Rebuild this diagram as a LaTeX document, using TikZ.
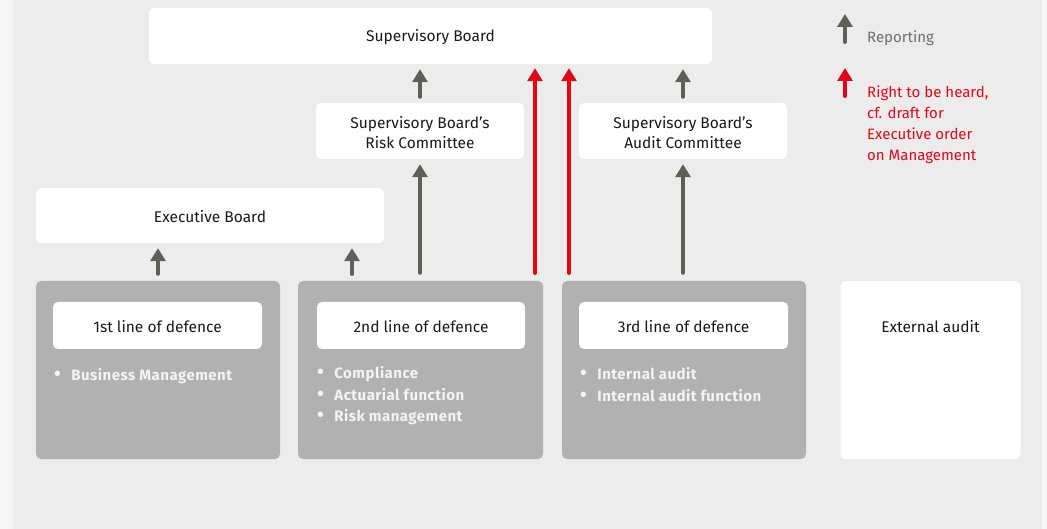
\documentclass[tikz,border=0pt]{standalone}
\usepackage{fontspec}
\setmainfont{Fira Sans}
\usetikzlibrary{arrows.meta}
\definecolor{bgc}{HTML}{ECECEC}
\definecolor{edgec}{HTML}{F6F6F6}
\definecolor{boxg}{HTML}{B1B1B1}
\definecolor{arrg}{HTML}{5E5F57}
\definecolor{arrr}{HTML}{E30613}
\definecolor{txtg}{HTML}{6E6E6E}
\definecolor{bullc}{HTML}{F4F4F4}
\tikzset{
  wbox/.style={fill=white, rounded corners=5pt, inner sep=0pt},
  wtext/.style={inner sep=0pt, align=center, yshift=-1.5pt, text=black!90,
    font=\fontsize{15.5}{20}\selectfont},
  gbox/.style={fill=boxg, rounded corners=5pt, inner sep=0pt},
  rep/.style={draw=arrg, line width=4pt, line cap=round,
    -{Triangle[width=15pt,length=13pt]}},
  rth/.style={draw=arrr, line width=4pt, line cap=round,
    -{Triangle[width=15pt,length=13pt]}},
  blist/.style={anchor=north west, inner sep=0pt, align=left, text=bullc,
    font=\fontsize{15}{21.5}\selectfont\bfseries\addfontfeatures{LetterSpace=3.2}},
  legtext/.style={anchor=west, inner sep=0pt, align=left,
    font=\fontsize{15}{21}\selectfont}
}
\newcommand{\bul}{\scalebox{1.3}{\textbullet}\hspace{10.5pt}}
\begin{document}
\begin{tikzpicture}[x=1pt,y=-1pt]
\useasboundingbox (0,0) rectangle (1047,529);
\fill[edgec] (0,0) rectangle (1047,529);
\fill[bgc] (13,0) rectangle (1042,529);

% top level boxes
\node[wbox, minimum width=563pt, minimum height=56pt,
  label={[wtext]center:Supervisory Board}] (sb) at (430.5,36) {};
\node[wbox, minimum width=208pt, minimum height=56pt,
  label={[wtext]center:Supervisory Board’s\\Risk Committee}] (rc) at (420,131) {};
\node[wbox, minimum width=208pt, minimum height=56pt,
  label={[wtext]center:Supervisory Board’s\\Audit Committee}] (ac) at (683,131) {};
\node[wbox, minimum width=348pt, minimum height=55pt,
  label={[wtext]center:Executive Board}] (eb) at (210,215.5) {};

% lines of defence
\node[gbox, minimum width=244pt, minimum height=178pt] (l1) at (158,370) {};
\node[gbox, minimum width=245pt, minimum height=178pt] (l2) at (420.5,370) {};
\node[gbox, minimum width=244pt, minimum height=178pt] (l3) at (684,370) {};
\node[wbox, minimum width=180pt, minimum height=178pt, anchor=north] (ext) at (930.5,281) {};
\node[wtext, yshift=1.5pt] (extt) at (930.5,327) {External audit};

\node[wbox, minimum width=209pt, minimum height=47pt,
  label={[wtext]center:1st line of defence}] (l1h) at (157.5,325.5) {};
\node[wbox, minimum width=208pt, minimum height=47pt,
  label={[wtext]center:2nd line of defence}] (l2h) at (421,325.5) {};
\node[wbox, minimum width=209pt, minimum height=47pt,
  label={[wtext]center:3rd line of defence}] (l3h) at (683.5,325.5) {};

\node[blist] (l1b) at (54,368.5) {\bul Business Management};
\node[blist] (l2b) at (317,366.5) {\bul Compliance\\\bul Actuarial function\\\bul Risk management};
\node[blist] (l3b) at (580,367.5) {\bul Internal audit\\\bul Internal audit function};

% reporting arrows
\draw[rep, shorten <=6pt, shorten >=5pt] (rc.north) -- (rc.north |- sb.south);
\draw[rep, shorten <=6pt, shorten >=5pt] (ac.north) -- (ac.north |- sb.south);
\draw[rep, shorten <=8pt, shorten >=5pt] (rc.south |- l2.north) -- (rc.south);
\draw[rep, shorten <=8pt, shorten >=5pt] (ac.south |- l3.north) -- (ac.south);
\draw[rep, shorten <=7pt, shorten >=5pt] (l1.north) -- (l1.north |- eb.south);
\coordinate (eba) at (352,281);
\draw[rep, shorten <=7pt, shorten >=5pt] (eba) -- (eba |- eb.south);

% right to be heard
\coordinate (r1) at (535,281);
\coordinate (r2) at (569,281);
\draw[rth, shorten <=8pt, shorten >=4pt] (r1) -- (r1 |- sb.south);
\draw[rth, shorten <=8pt, shorten >=4pt] (r2) -- (r2 |- sb.south);

% legend
\coordinate (lg1b) at (845,42);
\coordinate (lg1t) at (845,14);
\draw[rep] (lg1b) -- (lg1t);
\node[legtext, text=txtg] (lgt1) at (867,38) {Reporting};
\coordinate (lg2b) at (845,96);
\coordinate (lg2t) at (845,68);
\draw[rth] (lg2b) -- (lg2t);
\node[legtext, text=arrr, anchor=north west] (lgt2) at (867,85.5) {Right to be heard,\\cf. draft for\\Executive order\\on Management};
\end{tikzpicture}
\end{document}
